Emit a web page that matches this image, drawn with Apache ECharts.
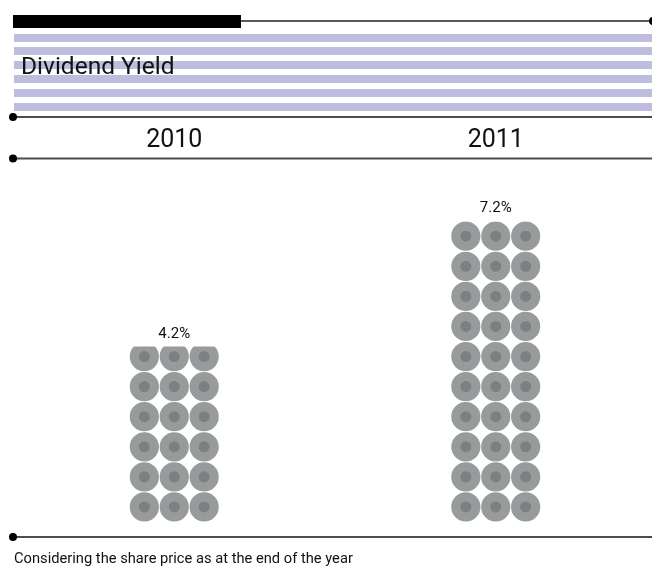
<!DOCTYPE html>
<html>
<head>
<meta charset="utf-8">
<style>html,body{margin:0;padding:0;background:#fff}#c{width:652px;height:566px}</style>
<script src="https://cdn.jsdelivr.net/npm/echarts@6/dist/echarts.min.js"></script>
</head>
<body>
<div id="c"></div>
<script>
const years = ['2010', '2011'];
const yieldPct = [4.2, 7.2];
const titleText = 'Dividend Yield';
const footnote = 'Considering the share price as at the end of the year';

const FONT = 'Roboto';
const DARK = '#4d4d4d';

// One row of three circles, with corner anchors so both layers share a box
function rowPath(r) {
  const w = 89, h = 30;
  let d = 'M0 0L' + w + ' ' + h + 'Z';
  [14.6, 44.5, 74.4].forEach(function (cx) {
    d += 'M' + (cx - r) + ' 15A' + r + ' ' + r + ' 0 1 1 ' + (cx + r) + ' 15A' + r + ' ' + r + ' 0 1 1 ' + (cx - r) + ' 15Z';
  });
  return 'path://' + d;
}

const stripes = [34, 47, 61, 75, 89, 103].map(function (y) {
  return { type: 'rect', shape: { x: 14, y: y, width: 638, height: 8 }, style: { fill: '#bfbddd' } };
});
function rule(y, color, w) {
  return [
    { type: 'line', shape: { x1: 13, y1: y, x2: 652, y2: y }, style: { stroke: color, lineWidth: w } },
    { type: 'circle', shape: { cx: 13, cy: y, r: 4 }, style: { fill: '#000' } }
  ];
}

const pictorial = {
  type: 'pictorialBar', data: yieldPct, barGap: '-100%', barWidth: 89,
  symbolSize: [89, 30.08], symbolRepeat: 10, symbolMargin: 0, symbolClip: true,
  symbolBoundingData: Math.max.apply(null, yieldPct), symbolPosition: 'start'
};

const chart = echarts.init(document.getElementById('c'), null, { renderer: 'canvas' });
chart.setOption({
  animation: false,
  backgroundColor: '#fff',
  title: {
    text: titleText, left: 21, top: 55, padding: 0,
    textStyle: { fontFamily: FONT, fontSize: 24.5, fontWeight: 400, color: '#111' }
  },
  grid: { left: 13.5, width: 643, top: 158.5, height: 363.5, outerBoundsMode: 'none' },
  xAxis: {
    type: 'category', data: years, position: 'top',
    axisLine: { show: false }, axisTick: { show: false },
    axisLabel: { fontFamily: FONT, fontSize: 25, color: '#111', margin: 5 }
  },
  yAxis: { type: 'value', min: 0, max: 8.7, show: false, splitLine: { show: false } },
  series: [
    Object.assign({}, pictorial, { z: 2, symbol: rowPath(14.6), itemStyle: { color: '#989b9b' } }),
    Object.assign({}, pictorial, { z: 3, symbol: rowPath(5.5), itemStyle: { color: '#7b8080' } }),
    {
      type: 'bar', data: yieldPct, barWidth: 89, z: 4, barGap: '-100%',
      itemStyle: { color: 'rgba(0,0,0,0)' },
      label: {
        show: true, position: 'top', distance: 5, formatter: '{c}%',
        fontFamily: FONT, fontSize: 15, color: '#111'
      }
    }
  ],
  graphic: [].concat(
    stripes,
    [
      { type: 'rect', shape: { x: 13, y: 15, width: 228, height: 13 }, style: { fill: '#000' } },
      { type: 'line', shape: { x1: 241, y1: 21, x2: 652, y2: 21 }, style: { stroke: '#222', lineWidth: 1.5 } },
      { type: 'circle', shape: { cx: 653, cy: 21, r: 4 }, style: { fill: '#000' } }
    ],
    rule(117, DARK, 2), rule(158.5, DARK, 2), rule(537, DARK, 2),
    [{ type: 'text', style: { x: 14, y: 552, text: footnote, fontFamily: FONT, fontSize: 14.7, fill: '#111' } }]
  )
});
</script>
</body>
</html>
